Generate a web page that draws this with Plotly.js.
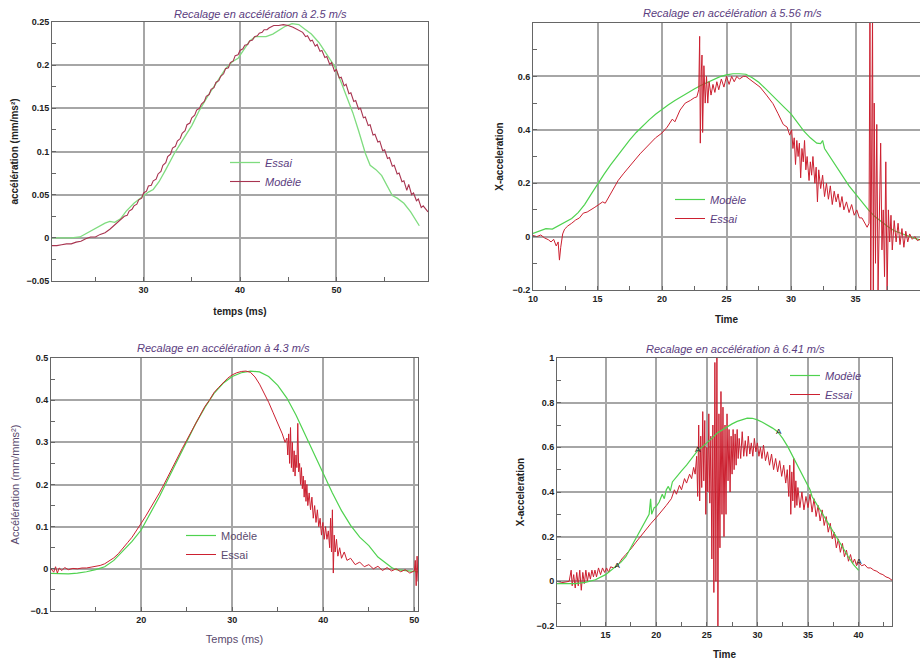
<!DOCTYPE html>
<html><head><meta charset="utf-8">
<script src="https://cdn.plot.ly/plotly-3.0.1.min.js"></script>
<style>html,body{margin:0;padding:0;background:#fff}#chart{width:920px;height:663px}</style>
</head><body><div id="chart"></div><script>
// ---------- DATA (time in ms / s, acceleration) ----------
const titles = ["Recalage en accélération à 2.5 m/s","Recalage en accélération à 5.56 m/s","Recalage en accélération à 4.3 m/s","Recalage en accélération à 6.41 m/s"];

// Panel 1 (2.5 m/s)
const p1Essai = [[20.5,0],[21.5,0],[22.5,0],[23.4,0.001],[24.2,0.006],[25.1,0.012],[26,0.017],[26.5,0.019],[27,0.018],[27.6,0.022],[28.2,0.031],[29,0.04],[30,0.049],[30.5,0.053],[31,0.056],[31.6,0.065],[32.3,0.079],[33.2,0.098],[34.1,0.114],[35,0.13],[35.8,0.148],[36.7,0.165],[37.7,0.182],[38.5,0.196],[39.2,0.204],[39.8,0.208],[40.4,0.218],[41,0.228],[41.6,0.233],[42.7,0.233],[43.4,0.236],[44,0.24],[44.7,0.245],[45.4,0.248],[46.1,0.247],[46.7,0.242],[47.4,0.236],[48.2,0.226],[49,0.213],[49.8,0.199],[50.5,0.18],[51.1,0.162],[51.7,0.145],[52.3,0.124],[53,0.098],[53.5,0.084],[54.1,0.079],[54.7,0.072],[55.2,0.062],[55.8,0.049],[56.3,0.046],[57,0.04],[57.7,0.03],[58.2,0.021],[58.6,0.014]];
const p1Modele = [[20.5,-0.009],[21,-0.009],[21.5,-0.008],[22,-0.007],[22.5,-0.007],[23,-0.005],[23.5,-0.004],[24,-0.001],[24.5,0.001],[25,0.001],[25.5,0.004],[26,0.006],[26.5,0.01],[27,0.015],[27.5,0.019],[28,0.025],[28.3,0.026],[28.5,0.031],[28.8,0.033],[29,0.037],[29.3,0.039],[29.5,0.044],[29.8,0.046],[30,0.052],[30.3,0.054],[30.5,0.06],[30.8,0.061],[31,0.066],[31.3,0.068],[31.5,0.074],[31.8,0.077],[32,0.084],[32.3,0.087],[32.5,0.094],[32.8,0.097],[33,0.104],[33.3,0.106],[33.5,0.112],[33.8,0.115],[34,0.121],[34.3,0.124],[34.5,0.131],[34.8,0.133],[35,0.139],[35.3,0.142],[35.5,0.148],[35.8,0.15],[36,0.155],[36.3,0.158],[36.5,0.164],[36.8,0.166],[37,0.172],[37.3,0.174],[37.5,0.18],[37.8,0.182],[38,0.187],[38.3,0.19],[38.5,0.196],[38.8,0.197],[39,0.203],[39.3,0.205],[39.5,0.211],[39.8,0.212],[40,0.217],[40.3,0.219],[40.5,0.223],[40.8,0.224],[41,0.228],[41.3,0.229],[41.5,0.233],[41.8,0.234],[42,0.237],[42.3,0.238],[42.5,0.241],[42.8,0.241],[43,0.243],[43.5,0.246],[44,0.246],[44.5,0.247],[45,0.246],[45.5,0.244],[46,0.241],[46.3,0.239],[46.5,0.238],[46.8,0.233],[47,0.234],[47.3,0.228],[47.5,0.229],[47.8,0.222],[48,0.224],[48.3,0.216],[48.5,0.217],[48.8,0.209],[49,0.21],[49.3,0.201],[49.5,0.203],[49.8,0.193],[50,0.195],[50.3,0.185],[50.5,0.186],[50.8,0.176],[51,0.178],[51.3,0.167],[51.5,0.168],[51.8,0.158],[52,0.159],[52.3,0.149],[52.5,0.15],[52.8,0.139],[53,0.14],[53.3,0.13],[53.5,0.131],[53.8,0.119],[54,0.12],[54.3,0.111],[54.5,0.112],[54.8,0.101],[55,0.102],[55.3,0.092],[55.5,0.093],[55.8,0.083],[56,0.084],[56.3,0.074],[56.5,0.075],[56.8,0.065],[57,0.066],[57.3,0.055],[57.5,0.062],[57.8,0.05],[58,0.052],[58.3,0.043],[58.5,0.045],[58.8,0.035],[59,0.037],[59.5,0.03]];

// Panel 2 (5.56 m/s)
const p2Modele = [[10,0.012],[10.5,0.02],[11,0.03],[11.5,0.028],[12,0.042],[12.5,0.055],[13,0.068],[13.5,0.09],[14,0.12],[14.5,0.158],[15,0.198],[15.5,0.233],[16,0.268],[16.5,0.3],[17,0.332],[17.5,0.362],[18,0.39],[18.5,0.415],[19,0.437],[19.5,0.458],[20,0.477],[20.5,0.494],[21,0.51],[21.5,0.525],[22,0.539],[22.5,0.553],[23,0.566],[23.5,0.578],[24,0.589],[24.5,0.599],[25,0.606],[25.5,0.61],[26,0.61],[26.5,0.608],[27,0.595],[27.5,0.578],[28,0.555],[28.5,0.53],[29,0.505],[29.5,0.483],[30,0.46],[30.5,0.428],[31,0.395],[31.5,0.37],[32,0.35],[32.3,0.348],[32.45,0.36],[32.6,0.33],[33,0.3],[33.5,0.265],[34,0.225],[34.5,0.19],[35,0.16],[35.5,0.13],[36,0.1],[36.5,0.075],[37,0.055],[37.5,0.038],[38,0.022],[38.5,0.012],[39,0.003],[39.5,-0.005],[40,-0.012]];
const p2Essai = [[10,0.004],[10.3,0],[10.6,0.006],[10.9,-0.005],[11.2,-0.012],[11.4,-0.02],[11.6,-0.01],[11.8,-0.035],[11.95,-0.02],[12.05,-0.088],[12.15,-0.04],[12.3,0.01],[12.45,0.028],[12.7,0.04],[13,0.05],[13.3,0.062],[13.6,0.07],[13.9,0.088],[14.2,0.092],[14.5,0.1],[14.8,0.11],[15.1,0.12],[15.4,0.13],[15.6,0.125],[15.9,0.15],[16.2,0.18],[16.6,0.21],[17,0.235],[17.4,0.26],[17.9,0.287],[18.3,0.31],[18.7,0.33],[19.1,0.35],[19.5,0.37],[20,0.388],[20.4,0.41],[20.8,0.44],[21,0.43],[21.4,0.474],[21.8,0.5],[22.2,0.51],[22.5,0.52],[22.7,0.523],[22.85,0.55],[22.92,0.75],[22.97,0.35],[23.05,0.62],[23.1,0.68],[23.15,0.39],[23.25,0.64],[23.35,0.5],[23.45,0.6],[23.55,0.5],[23.65,0.58],[23.8,0.53],[23.95,0.57],[24.1,0.54],[24.25,0.58],[24.4,0.55],[24.6,0.59],[24.8,0.56],[25,0.6],[25.2,0.57],[25.4,0.6],[25.6,0.58],[25.8,0.6],[26,0.59],[26.3,0.6],[26.5,0.6],[26.8,0.59],[27.1,0.58],[27.6,0.56],[28.1,0.53],[28.6,0.498],[29,0.46],[29.4,0.42],[29.7,0.41],[29.9,0.38],[30.05,0.4],[30.15,0.33],[30.25,0.37],[30.35,0.27],[30.45,0.36],[30.55,0.3],[30.65,0.35],[30.75,0.22],[30.85,0.33],[30.95,0.28],[31.05,0.36],[31.15,0.25],[31.25,0.3],[31.4,0.21],[31.5,0.28],[31.6,0.23],[31.7,0.3],[31.85,0.2],[31.95,0.26],[32.05,0.13],[32.15,0.25],[32.3,0.18],[32.45,0.23],[32.6,0.15],[32.75,0.2],[32.9,0.14],[33.05,0.19],[33.2,0.12],[33.35,0.17],[33.5,0.13],[33.65,0.16],[33.8,0.11],[33.95,0.15],[34.1,0.1],[34.3,0.13],[34.5,0.09],[34.7,0.12],[34.9,0.08],[35.1,0.1],[35.3,0.07],[35.5,0.07],[35.7,0.05],[35.9,0.035],[36.05,0.05],[36.12,0.85],[36.18,-0.25],[36.25,0.3],[36.32,0.85],[36.38,-0.25],[36.45,0.5],[36.55,-0.1],[36.65,0.42],[36.75,-0.2],[36.85,0.1],[36.95,0.35],[37.05,-0.05],[37.15,0.1],[37.25,-0.15],[37.35,0.28],[37.45,-0.22],[37.55,0.1],[37.65,-0.02],[37.75,0.08],[37.85,-0.05],[38,0.06],[38.15,-0.02],[38.3,0.05],[38.45,-0.03],[38.6,0.03],[38.75,-0.04],[38.9,0.02],[39.05,-0.02],[39.2,0.01],[39.4,-0.01],[39.6,0],[39.8,-0.015],[40,-0.01]];

// Panel 3 (4.3 m/s)
const p3Modele = [[10.1,-0.011],[11,-0.012],[12,-0.012],[13,-0.01],[14,-0.007],[15,-0.002],[16,0.005],[17,0.02],[18,0.042],[19,0.065],[20,0.092],[21,0.13],[22,0.171],[23,0.215],[24,0.258],[25,0.302],[26,0.345],[27,0.383],[28,0.416],[29,0.44],[30,0.456],[31,0.465],[32,0.469],[33,0.467],[34,0.456],[35,0.435],[36,0.405],[37,0.365],[38,0.318],[39,0.27],[40,0.224],[41,0.18],[42,0.138],[43,0.103],[44,0.075],[45,0.055],[46,0.028],[47,0.01],[47.5,0.003],[48,-0.002],[49,-0.004],[50,-0.006],[50.4,-0.007]];
const p3Essai = [[10.1,0],[10.4,-0.008],[10.6,0.005],[10.8,-0.01],[11,0.002],[11.3,-0.004],[11.6,0.003],[12,-0.002],[12.5,0.001],[13,0],[13.5,0.002],[14,0.002],[14.5,0.004],[15,0.006],[15.5,0.008],[16,0.012],[16.5,0.018],[17,0.026],[17.5,0.036],[18,0.048],[18.5,0.062],[19,0.075],[19.5,0.09],[20,0.108],[20.5,0.125],[21,0.143],[21.5,0.16],[22,0.18],[22.5,0.2],[23,0.222],[23.5,0.243],[24,0.265],[24.5,0.285],[25,0.305],[25.5,0.325],[26,0.348],[26.5,0.368],[27,0.385],[27.5,0.4],[28,0.418],[28.5,0.43],[29,0.442],[29.5,0.452],[30,0.46],[30.5,0.465],[31,0.468],[31.5,0.469],[32,0.466],[32.5,0.455],[33,0.438],[33.5,0.418],[34,0.395],[34.5,0.37],[35,0.345],[35.5,0.32],[35.8,0.3],[36,0.31],[36.1,0.27],[36.2,0.32],[36.3,0.25],[36.4,0.335],[36.5,0.24],[36.6,0.3],[36.7,0.23],[36.8,0.28],[36.9,0.22],[37,0.27],[37.1,0.24],[37.2,0.345],[37.3,0.23],[37.4,0.25],[37.5,0.2],[37.6,0.24],[37.7,0.19],[37.8,0.22],[37.9,0.17],[38,0.21],[38.1,0.16],[38.2,0.2],[38.3,0.15],[38.45,0.18],[38.6,0.14],[38.75,0.17],[38.9,0.12],[39.05,0.15],[39.2,0.11],[39.35,0.14],[39.5,0.1],[39.65,0.12],[39.8,0.08],[39.95,0.11],[40.1,0.07],[40.25,0.1],[40.4,0.07],[40.55,0.09],[40.7,0.05],[40.8,0.12],[40.9,0.04],[41,0.14],[41.1,-0.01],[41.2,0.08],[41.3,0.04],[41.45,0.07],[41.6,0.03],[41.8,0.05],[42,0.025],[42.3,0.04],[42.6,0.02],[43,0.025],[43.5,0.01],[44,0.016],[44.5,0.005],[45,0.01],[45.5,0],[46,0.006],[46.5,-0.004],[47,0.003],[47.5,-0.005],[48,0],[48.5,-0.007],[49,-0.002],[49.5,-0.01],[50,-0.005],[50.1,0.02],[50.2,-0.04],[50.3,0.03],[50.4,-0.03]];

// Panel 4 (6.41 m/s)
const p4Modele = [[10.2,-0.01],[11,-0.01],[12,-0.01],[13,-0.005],[14,0.007],[15,0.03],[16,0.064],[16.5,0.085],[17,0.11],[17.5,0.15],[18,0.195],[18.5,0.235],[19,0.275],[19.3,0.3],[19.45,0.37],[19.55,0.3],[19.8,0.33],[20,0.335],[20.3,0.355],[20.6,0.39],[20.8,0.37],[21,0.41],[21.2,0.425],[21.4,0.405],[21.6,0.445],[22,0.469],[22.5,0.495],[23,0.52],[23.5,0.55],[24,0.58],[24.5,0.6],[25,0.618],[25.5,0.64],[26,0.663],[26.5,0.678],[27,0.693],[27.5,0.705],[28,0.716],[28.5,0.725],[29,0.731],[29.5,0.73],[30,0.723],[30.5,0.712],[31,0.7],[31.5,0.686],[32,0.67],[32.5,0.64],[33,0.603],[33.5,0.56],[34,0.513],[34.5,0.47],[35,0.424],[35.2,0.41],[35.4,0.38],[36,0.334],[36.5,0.295],[37,0.259],[37.5,0.22],[38,0.184],[38.5,0.145],[39,0.109],[39.5,0.075],[40,0.049]];
const p4Essai = [[10.2,-0.01],[10.8,-0.005],[11.4,0],[11.6,0.05],[11.7,-0.02],[11.85,0.03],[12,-0.03],[12.15,0.04],[12.3,-0.02],[12.45,0.05],[12.6,-0.04],[12.75,0.04],[12.9,-0.01],[13.05,0.05],[13.2,0],[13.35,0.04],[13.5,0.01],[13.65,0.05],[13.8,0.02],[13.95,0.05],[14.1,0.02],[14.3,0.06],[14.5,0.03],[14.7,0.06],[14.9,0.04],[15.1,0.06],[15.3,0.04],[15.5,0.065],[15.8,0.06],[16.2,0.07],[16.6,0.1],[17,0.12],[17.5,0.145],[18,0.175],[18.5,0.205],[19,0.235],[19.5,0.26],[20,0.285],[20.5,0.31],[21,0.34],[21.5,0.37],[21.8,0.41],[22,0.39],[22.3,0.43],[22.5,0.41],[22.8,0.46],[23,0.44],[23.3,0.48],[23.5,0.46],[23.7,0.51],[23.85,0.48],[24,0.56],[24.1,0.38],[24.2,0.7],[24.3,0.36],[24.4,0.65],[24.5,0.42],[24.6,0.76],[24.7,0.45],[24.8,0.72],[24.9,0.3],[25,0.6],[25.1,0.4],[25.2,0.75],[25.3,0.35],[25.4,0.65],[25.5,0.1],[25.6,0.7],[25.7,-0.05],[25.8,0.98],[25.9,0],[26,1],[26.1,-0.2],[26.2,0.75],[26.3,0.15],[26.4,0.85],[26.5,0.3],[26.6,0.78],[26.7,0.2],[26.8,0.7],[26.9,0.3],[27,0.75],[27.1,0.45],[27.2,0.68],[27.3,0.4],[27.4,0.65],[27.5,0.48],[27.6,0.68],[27.7,0.5],[27.8,0.66],[27.9,0.52],[28,0.68],[28.1,0.55],[28.2,0.64],[28.35,0.55],[28.5,0.67],[28.65,0.56],[28.8,0.63],[28.95,0.56],[29.1,0.65],[29.25,0.57],[29.4,0.62],[29.55,0.56],[29.7,0.64],[29.85,0.58],[30,0.62],[30.15,0.56],[30.3,0.6],[30.45,0.55],[30.6,0.61],[30.8,0.54],[31,0.58],[31.2,0.52],[31.4,0.57],[31.6,0.5],[31.8,0.55],[32,0.49],[32.2,0.54],[32.4,0.47],[32.6,0.52],[32.8,0.44],[32.95,0.5],[33.1,0.38],[33.2,0.52],[33.3,0.3],[33.4,0.49],[33.5,0.36],[33.6,0.55],[33.7,0.33],[33.8,0.45],[33.9,0.34],[34,0.42],[34.2,0.33],[34.4,0.4],[34.6,0.32],[34.8,0.38],[35,0.33],[35.2,0.39],[35.4,0.31],[35.6,0.37],[35.8,0.29],[36,0.34],[36.2,0.27],[36.4,0.32],[36.6,0.25],[36.8,0.29],[37,0.22],[37.2,0.26],[37.4,0.19],[37.6,0.22],[37.8,0.15],[38,0.19],[38.2,0.13],[38.4,0.17],[38.6,0.11],[38.8,0.14],[39,0.09],[39.2,0.12],[39.4,0.08],[39.6,0.1],[39.8,0.07],[40,0.085],[40.3,0.07],[40.6,0.075],[40.9,0.06],[41.2,0.06],[41.5,0.05],[41.8,0.045],[42.1,0.035],[42.4,0.03],[42.7,0.02],[43,0.015],[43.3,0.005]];
const p4MarkX = [16.15, 24.1, 32.1, 40.03];
const p4MarkY = [0.067, 0.588, 0.67, 0.087];
const p4MarkText = ["A","A","A","A"];

// ---------- LAYOUT HELPERS ----------
const W = 920, H = 663;
const dx = (l, r) => [l / W, Math.min(1, r / W)];
const dy = (t, b) => [1 - b / H, 1 - t / H];
const X = p => p.map(d => d[0]);
const Y = p => p.map(d => d[1]);
const FAM = "Liberation Sans, Arial, sans-serif";
const PURPLE = "#5b3d80";
const GREEN = "#4fd24f";
const RED = "#cc2030";
const tickFont = {family: FAM, size: 9, weight: "bold", color: "#222"};
const boldTitle = {family: FAM, size: 10, weight: "bold", color: "#222"};
const softTitle = {family: FAM, size: 11, color: "#5a4a6e"};

function axis(domain, range, tickvals, minorDtick, minorTick0, title, tfont, standoff, anchor) {
  return {
    domain, range, tickmode: "array", tickvals, anchor,
    showgrid: true, gridcolor: "#a6a6a6", gridwidth: 2,
    showline: true, mirror: true, linecolor: "#666", linewidth: 1,
    ticks: "inside", ticklen: 4, tickcolor: "#666",
    minor: {tickmode: "linear", tick0: minorTick0, dtick: minorDtick, ticks: "inside", ticklen: 4, tickcolor: "#666", showgrid: false},
    tickfont: tickFont, zeroline: false, automargin: false,
    title: {text: title, font: tfont, standoff}
  };
}

const layout = {
  width: W, height: H, margin: {l: 0, r: 0, t: 0, b: 0},
  paper_bgcolor: "#fff", plot_bgcolor: "#fff", showlegend: true,
  xaxis:  axis(dx(52, 428),  [20.5, 59.5], [30, 40, 50], 5, 0, "temps (ms)", boldTitle, 14, "y"),
  yaxis:  axis(dy(22, 281),  [-0.05, 0.25], [-0.05, 0, 0.05, 0.1, 0.15, 0.2, 0.25], 0.025, 0, "accélération (mm/ms²)", boldTitle, 5, "x"),
  xaxis2: axis(dx(533, 920), [10, 40], [10, 15, 20, 25, 30, 35, 40], 2.5, 0, "Time", boldTitle, 13, "y2"),
  yaxis2: axis(dy(23, 290),  [-0.2, 0.8], [-0.2, 0, 0.2, 0.4, 0.6], 0.1, 0, "X-acceleration", boldTitle, 6, "x2"),
  xaxis3: axis(dx(51, 418),  [10.1, 50.4], [20, 30, 40, 50], 5, 0, "Temps (ms)", softTitle, 11, "y3"),
  yaxis3: axis(dy(358, 611), [-0.1, 0.5], [-0.1, 0, 0.1, 0.2, 0.3, 0.4, 0.5], 0.05, 0, "Accélération (mm/mms²)", softTitle, 8, "x3"),
  xaxis4: axis(dx(557, 892), [10.2, 43.3], [15, 20, 25, 30, 35, 40], 2.5, 0, "Time", boldTitle, 12, "y4"),
  yaxis4: axis(dy(358, 626), [-0.2, 1], [-0.2, 0, 0.2, 0.4, 0.6, 0.8, 1], 0.1, 0, "X-acceleration", boldTitle, 9, "x4"),
  legend:  {x: 225 / W, y: 1 - 172 / H, xanchor: "left", yanchor: "middle", bgcolor: "rgba(0,0,0,0)", font: {family: FAM, size: 11, style: "italic", color: PURPLE}},
  legend2: {x: 670 / W, y: 1 - 209 / H, xanchor: "left", yanchor: "middle", bgcolor: "rgba(0,0,0,0)", font: {family: FAM, size: 11, style: "italic", color: PURPLE}},
  legend3: {x: 181 / W, y: 1 - 545 / H, xanchor: "left", yanchor: "middle", bgcolor: "rgba(0,0,0,0)", font: {family: FAM, size: 11, color: "#5a4a6e"}},
  legend4: {x: 785 / W, y: 1 - 385 / H, xanchor: "left", yanchor: "middle", bgcolor: "rgba(0,0,0,0)", font: {family: FAM, size: 11, style: "italic", color: PURPLE}},
  annotations: [
    [260, 14], [732, 13], [223, 348], [735, 349]
  ].map((p, i) => ({
    text: titles[i], xref: "paper", yref: "paper", x: p[0] / W, y: 1 - p[1] / H,
    xanchor: "center", yanchor: "middle", showarrow: false,
    font: {family: FAM, size: 11, style: "italic", color: PURPLE}
  }))
};

const traces = [
  {x: X(p1Essai), y: Y(p1Essai), name: "Essai", mode: "lines", line: {color: "#7fdc7f", width: 1.3}, xaxis: "x", yaxis: "y", legend: "legend"},
  {x: X(p1Modele), y: Y(p1Modele), name: "Modèle", mode: "lines", line: {color: "#a83450", width: 1.1}, xaxis: "x", yaxis: "y", legend: "legend"},
  {x: X(p2Modele), y: Y(p2Modele), name: "Modèle", mode: "lines", line: {color: GREEN, width: 1.2}, xaxis: "x2", yaxis: "y2", legend: "legend2"},
  {x: X(p2Essai), y: Y(p2Essai), name: "Essai", mode: "lines", line: {color: RED, width: 1}, xaxis: "x2", yaxis: "y2", legend: "legend2"},
  {x: X(p3Modele), y: Y(p3Modele), name: "Modèle", mode: "lines", line: {color: GREEN, width: 1.2}, xaxis: "x3", yaxis: "y3", legend: "legend3"},
  {x: X(p3Essai), y: Y(p3Essai), name: "Essai", mode: "lines", line: {color: RED, width: 1}, xaxis: "x3", yaxis: "y3", legend: "legend3"},
  {x: X(p4Essai), y: Y(p4Essai), name: "Essai", mode: "lines", line: {color: RED, width: 1}, xaxis: "x4", yaxis: "y4", legend: "legend4", legendrank: 2},
  {x: X(p4Modele), y: Y(p4Modele), name: "Modèle", mode: "lines", line: {color: GREEN, width: 1.2}, xaxis: "x4", yaxis: "y4", legend: "legend4", legendrank: 1},
  {x: p4MarkX, y: p4MarkY, text: p4MarkText, mode: "text", textfont: {family: FAM, size: 8, color: "#222"}, xaxis: "x4", yaxis: "y4", showlegend: false, hoverinfo: "skip"}
];

Plotly.newPlot("chart", traces, layout, {displayModeBar: false, staticPlot: true});
</script></body></html>
